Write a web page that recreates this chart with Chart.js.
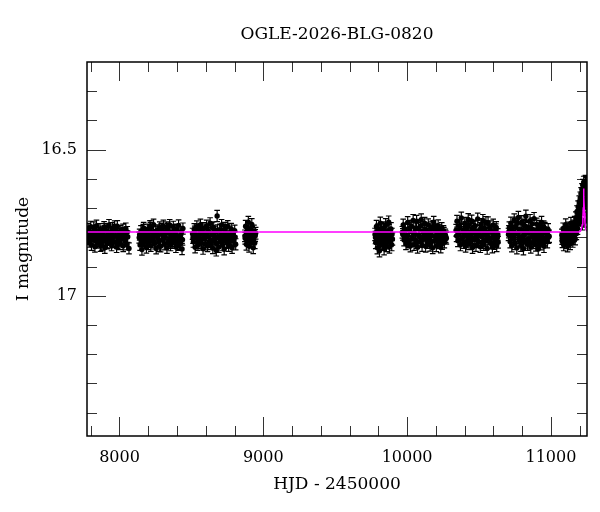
<!DOCTYPE html>
<html><head><meta charset="utf-8">
<script src="https://cdn.jsdelivr.net/npm/chart.js@4/dist/chart.umd.min.js"></script>
<style>html,body{margin:0;padding:0;background:#fff}#wrap{width:600px;height:512px}</style>
</head><body><div id="wrap"><canvas id="c" width="600" height="512"></canvas></div>
<script>
const titleText = 'OGLE-2026-BLG-0820';
const xAxisTitle = 'HJD - 2450000';
const yAxisTitle = 'I magnitude';
const xMajorTicks = [8000, 9000, 10000, 11000];
const xMinorTicks = [7800, 8200, 8400, 8600, 8800, 9200, 9400, 9600, 9800, 10200, 10400, 10600, 10800, 11200];
const yMajorTicks = [16.5, 17];
const yMinorTicks = [16.3, 16.4, 16.6, 16.7, 16.8, 16.9, 17.1, 17.2, 17.3, 17.4];

const s1Hjd = [7777,7782,7788,7794,7800,7805,7811,7817,7823,7829,
 7835,7840,7846,7852,7858,7864,7869,7875,7881,7887,
 7893,7898,7904,7910,7916,7922,7927,7933,7939,7945,
 7951,7956,7962,7968,7974,7980,7985,7991,7997,8003,
 8009,8014,8020,8026,8032,8038,8044,8050,8057,8066,
 7779,7792,7808,7821,7838,7850,7866,7878,7895,7908,
 7924,7937,7953,7966,7982,7995,8011,8024,8040,8054];
const s1Mag = [16.792,16.771,16.815,16.803,16.764,16.826,16.788,16.809,16.778,16.832,
 16.797,16.760,16.818,16.785,16.806,16.772,16.829,16.794,16.781,16.812,
 16.765,16.836,16.799,16.777,16.821,16.790,16.758,16.808,16.784,16.827,
 16.769,16.801,16.816,16.775,16.795,16.833,16.762,16.810,16.787,16.823,
 16.779,16.804,16.791,16.830,16.786,16.812,16.770,16.824,16.798,16.838,
 16.806,16.781,16.797,16.766,16.813,16.791,16.803,16.825,16.772,16.809,
 16.785,16.817,16.794,16.763,16.820,16.789,16.800,16.774,16.811,16.782];

const s2Hjd = [8137,8143,8149,8156,8162,8168,8174,8181,8187,8193,
 8199,8205,8212,8218,8224,8230,8237,8243,8249,8255,
 8262,8268,8274,8280,8286,8293,8299,8305,8311,8318,
 8324,8330,8336,8342,8349,8355,8361,8367,8374,8380,
 8386,8392,8398,8405,8411,8417,8423,8429,8435,8441,
 8140,8153,8165,8178,8190,8202,8215,8227,8240,8252,
 8265,8277,8290,8302,8315,8327,8339,8352,8364,8377,
 8389,8402,8414,8426,8438];
const s2Mag = [16.801,16.826,16.779,16.842,16.808,16.768,16.817,16.790,16.835,16.774,
 16.812,16.796,16.762,16.829,16.783,16.806,16.757,16.821,16.793,16.838,
 16.776,16.803,16.815,16.766,16.831,16.789,16.809,16.760,16.824,16.797,
 16.780,16.836,16.771,16.811,16.758,16.827,16.795,16.819,16.764,16.805,
 16.786,16.833,16.774,16.816,16.759,16.822,16.798,16.783,16.840,16.770,
 16.791,16.812,16.775,16.804,16.786,16.823,16.768,16.800,16.815,16.781,
 16.794,16.830,16.772,16.808,16.788,16.766,16.819,16.784,16.803,16.777,
 16.812,16.795,16.826,16.790,16.808];

const s3Hjd = [8508,8514,8520,8526,8532,8538,8545,8551,8557,8563,
 8569,8575,8581,8587,8594,8600,8606,8612,8618,8624,
 8630,8636,8643,8649,8655,8661,8667,8673,8679,8685,
 8691,8698,8704,8710,8716,8722,8728,8734,8740,8747,
 8753,8759,8765,8771,8777,8783,8789,8795,8801,8808,
 8511,8523,8535,8548,8560,8572,8584,8597,8609,8621,
 8633,8646,8658,8670,8682,8694,8707,8719,8731,8743,
 8756,8768,8780,8792,8804];
const s3Mag = [16.788,16.815,16.772,16.834,16.801,16.763,16.826,16.793,16.811,16.757,
 16.820,16.784,16.839,16.769,16.806,16.797,16.760,16.830,16.779,16.816,
 16.752,16.823,16.790,16.837,16.766,16.808,16.781,16.845,16.727,16.799,
 16.833,16.774,16.812,16.758,16.827,16.795,16.841,16.768,16.804,16.819,
 16.762,16.829,16.787,16.810,16.771,16.836,16.796,16.813,16.777,16.824,
 16.802,16.781,16.795,16.818,16.773,16.806,16.790,16.824,16.785,16.799,
 16.812,16.767,16.794,16.820,16.776,16.803,16.789,16.811,16.775,16.798,
 16.816,16.784,16.807,16.792,16.800];

const s4Hjd = [8872,8877,8882,8886,8891,8896,8901,8906,8911,8916,8920,8925,8930,8935,8941,8947,
 8874,8884,8893,8903,8913,8923,8933,8944];
const s4Mag = [16.795,16.762,16.824,16.781,16.809,16.748,16.831,16.790,16.772,16.815,16.756,16.803,16.836,16.778,16.819,16.786,
 16.803,16.789,16.770,16.812,16.797,16.783,16.806,16.794];

const s5Hjd = [9777,9782,9787,9793,9798,9803,9808,9814,9819,9824,9830,9835,9840,9845,9851,9856,9861,9867,9872,9877,9883,9888,9893,9898,
 9780,9790,9800,9811,9821,9832,9843,9853,9864,9875,9885,9895];
const s5Mag = [16.790,16.818,16.763,16.836,16.775,16.804,16.846,16.752,16.822,16.787,16.811,16.768,16.839,16.796,16.757,16.828,16.781,16.814,16.748,16.833,16.799,16.771,16.825,16.806,
 16.801,16.782,16.815,16.793,16.770,16.808,16.786,16.819,16.797,16.777,16.811,16.790];

const s6Hjd = [9967,9973,9979,9986,9992,9998,10004,10010,10017,10023,
 10029,10035,10042,10048,10054,10060,10066,10073,10079,10085,
 10091,10098,10104,10110,10116,10122,10129,10135,10141,10147,
 10154,10160,10166,10172,10178,10185,10191,10197,10203,10210,
 10216,10222,10228,10234,10241,10247,10253,10259,10266,10273,
 9970,9982,9995,10007,10020,10032,10045,10057,10070,10082,
 10095,10107,10119,10132,10144,10157,10169,10182,10194,10207,
 10219,10231,10244,10256,10269];
const s6Mag = [16.783,16.758,16.809,16.771,16.822,16.795,16.749,16.816,16.777,16.830,
 16.762,16.801,16.742,16.825,16.788,16.811,16.745,16.834,16.769,16.797,
 16.814,16.740,16.828,16.779,16.806,16.752,16.831,16.790,16.818,16.757,
 16.803,16.827,16.765,16.794,16.836,16.748,16.812,16.774,16.829,16.786,
 16.760,16.819,16.797,16.833,16.770,16.805,16.780,16.816,16.792,16.803,
 16.790,16.775,16.798,16.812,16.767,16.804,16.785,16.771,16.818,16.793,
 16.760,16.808,16.786,16.774,16.800,16.782,16.815,16.763,16.797,16.808,
 16.777,16.790,16.821,16.786,16.798];

const s7Hjd = [10341,10347,10353,10359,10365,10371,10377,10383,10389,10395,
 10401,10407,10413,10419,10425,10431,10437,10443,10449,10455,
 10461,10467,10473,10479,10485,10491,10497,10503,10509,10515,
 10521,10527,10533,10539,10545,10551,10557,10563,10569,10575,
 10581,10587,10593,10599,10605,10611,10617,10623,10628,10633,
 10344,10356,10368,10380,10392,10404,10416,10428,10440,10452,
 10464,10476,10488,10500,10512,10524,10536,10548,10560,10572,
 10584,10596,10608,10620,10631];
const s7Mag = [16.776,16.745,16.812,16.790,16.760,16.826,16.734,16.801,16.783,16.818,
 16.752,16.831,16.768,16.797,16.739,16.822,16.786,16.809,16.744,16.835,
 16.773,16.804,16.761,16.828,16.791,16.737,16.815,16.780,16.832,16.756,
 16.799,16.742,16.825,16.770,16.811,16.787,16.838,16.750,16.806,16.764,
 16.820,16.781,16.833,16.758,16.796,16.812,16.774,16.829,16.801,16.817,
 16.795,16.783,16.767,16.805,16.776,16.792,16.814,16.757,16.788,16.801,
 16.765,16.781,16.810,16.794,16.770,16.818,16.786,16.749,16.797,16.779,
 16.803,16.788,16.821,16.766,16.790];

const s8Hjd = [10705,10711,10717,10722,10728,10734,10740,10745,10751,10757,
 10763,10768,10774,10780,10786,10791,10797,10803,10809,10814,
 10820,10826,10832,10837,10843,10849,10855,10860,10866,10872,
 10878,10883,10889,10895,10901,10906,10912,10918,10924,10929,
 10935,10941,10947,10952,10958,10964,10970,10975,10981,10988,
 10708,10720,10731,10743,10754,10766,10777,10789,10800,10812,
 10823,10835,10846,10858,10869,10881,10892,10904,10915,10927,
 10938,10950,10961,10973,10984];
const s8Mag = [16.790,16.768,16.815,16.752,16.829,16.779,16.803,16.741,16.821,16.764,
 16.836,16.787,16.732,16.810,16.775,16.827,16.747,16.798,16.839,16.759,
 16.816,16.728,16.783,16.824,16.766,16.806,16.743,16.833,16.771,16.797,
 16.818,16.736,16.789,16.826,16.755,16.809,16.840,16.763,16.794,16.822,
 16.749,16.812,16.780,16.831,16.770,16.801,16.786,16.815,16.774,16.796,
 16.781,16.796,16.770,16.806,16.788,16.752,16.800,16.815,16.778,16.793,
 16.762,16.808,16.785,16.819,16.754,16.791,16.803,16.776,16.812,16.783,
 16.797,16.765,16.808,16.787,16.800];

const s9Hjd = [11076,11080,11085,11089,11094,11098,11103,11107,11112,11116,
 11121,11125,11130,11134,11139,11143,11148,11152,11157,11161,
 11165,11169,11173,11177,11181,11185,11189,11193,11197,11201,
 11204,11207,11210,11213,11216,11219,11222,11225,11228,11231,
 11234,11237,11240,11243,11246,11248,11250,11251,
 11078,11087,11096,11105,11114,11123,11132,11141,11150,11159,
 11167,11175,11183,11191,11199,11206,11212,11218,11224,11230,
 11236,11241,11245,11249,11250];
const s9Mag = [16.792,16.815,16.771,16.826,16.783,16.804,16.757,16.819,16.796,16.830,
 16.768,16.809,16.786,16.822,16.752,16.801,16.778,16.814,16.761,16.795,
 16.748,16.806,16.733,16.788,16.712,16.770,16.695,16.752,16.678,16.735,
 16.665,16.742,16.650,16.718,16.636,16.755,16.622,16.700,16.611,16.684,
 16.630,16.745,16.608,16.668,16.625,16.720,16.615,16.690,
 16.804,16.786,16.812,16.777,16.798,16.809,16.768,16.793,16.805,16.781,
 16.772,16.760,16.740,16.725,16.705,16.690,16.672,16.655,16.640,16.648,
 16.660,16.635,16.655,16.640,16.610];

const seasonErr = [0.019, 0.019, 0.019, 0.020, 0.021, 0.020, 0.020, 0.021, 0.020];

const modelHjd = [7774, 11195, 11205, 11212, 11218, 11222, 11225, 11227, 11228, 11230, 11233, 11237, 11242, 11251];
const modelMag = [16.782, 16.782, 16.779, 16.772, 16.757, 16.735, 16.700, 16.662, 16.633, 16.660, 16.715, 16.752, 16.772, 16.780];

const seasons = [[s1Hjd,s1Mag],[s2Hjd,s2Mag],[s3Hjd,s3Mag],[s4Hjd,s4Mag],[s5Hjd,s5Mag],[s6Hjd,s6Mag],[s7Hjd,s7Mag],[s8Hjd,s8Mag],[s9Hjd,s9Mag]];
const obs = [];
seasons.forEach(([h, m], i) => h.forEach((t, j) => obs.push({x: t, y: m[j], e: seasonErr[i]})));
const model = modelHjd.map((t, i) => ({x: t, y: modelMag[i]}));

const FONT = 'DejaVu Serif';

const framePlugin = {
  id: 'frame',
  beforeDatasetsDraw(chart) {
    const {ctx, chartArea: a, scales: {x, y}} = chart;
    ctx.save();
    ctx.strokeStyle = '#333';
    ctx.lineWidth = 1;
    ctx.beginPath();
    const tickX = (v, len) => {
      const p = Math.round(x.getPixelForValue(v)) + 0.5;
      ctx.moveTo(p, a.bottom); ctx.lineTo(p, a.bottom - len);
      ctx.moveTo(p, a.top); ctx.lineTo(p, a.top + len);
    };
    const tickY = (v, len) => {
      const p = Math.round(y.getPixelForValue(v)) + 0.5;
      ctx.moveTo(a.left, p); ctx.lineTo(a.left + len, p);
      ctx.moveTo(a.right, p); ctx.lineTo(a.right - len, p);
    };
    xMajorTicks.forEach(v => tickX(v, 19));
    xMinorTicks.forEach(v => tickX(v, 10));
    yMajorTicks.forEach(v => tickY(v, 19));
    yMinorTicks.forEach(v => tickY(v, 10));
    ctx.stroke();
    ctx.save();
    ctx.beginPath();
    ctx.rect(a.left, a.top, a.right - a.left, a.bottom - a.top);
    ctx.clip();
    ctx.strokeStyle = '#000';
    ctx.lineWidth = 1.2;
    ctx.beginPath();
    obs.forEach(o => {
      const px = x.getPixelForValue(o.x);
      const y1 = y.getPixelForValue(o.y - o.e);
      const y2 = y.getPixelForValue(o.y + o.e);
      ctx.moveTo(px, y1); ctx.lineTo(px, y2);
      ctx.moveTo(px - 2.8, y1); ctx.lineTo(px + 2.8, y1);
      ctx.moveTo(px - 2.8, y2); ctx.lineTo(px + 2.8, y2);
    });
    ctx.stroke();
    ctx.restore();
    ctx.restore();
  },
  afterDraw(chart) {
    const {ctx, chartArea: a} = chart;
    ctx.save();
    ctx.strokeStyle = '#000';
    ctx.lineWidth = 1.5;
    ctx.strokeRect(a.left, a.top, a.right - a.left, a.bottom - a.top);
    ctx.fillStyle = '#000';
    ctx.font = '17px "' + FONT + '"';
    ctx.textAlign = 'center';
    ctx.textBaseline = 'middle';
    ctx.fillText(titleText, (a.left + a.right) / 2, 35);
    ctx.restore();
  }
};

new Chart(document.getElementById('c'), {
  type: 'scatter',
  data: {
    datasets: [
      {
        type: 'line',
        data: model,
        borderColor: '#ff00ff',
        borderWidth: 1.5,
        pointRadius: 0,
        tension: 0,
        fill: false
      },
      {
        data: obs,
        backgroundColor: '#000',
        borderColor: '#000',
        borderWidth: 0,
        pointRadius: 2.7,
        showLine: false
      }
    ]
  },
  options: {
    responsive: false,
    animation: false,
    events: [],
    layout: {padding: {left: 0, right: 13, top: 62, bottom: 0}},
    plugins: {legend: {display: false}, tooltip: {enabled: false}, title: {display: false}},
    scales: {
      x: {
        type: 'linear',
        min: 7774,
        max: 11251,
        grid: {display: false, drawTicks: false},
        border: {display: false},
        afterBuildTicks: s => { s.ticks = xMajorTicks.map(v => ({value: v})); },
        afterFit: s => { s.height = 76; },
        ticks: {
          color: '#000', padding: 12, maxRotation: 0, autoSkip: false,
          font: {family: FONT, size: 16},
          callback: v => String(v)
        },
        title: {display: true, text: xAxisTitle, color: '#000', font: {family: FONT, size: 17}, padding: {top: 0, bottom: 17}}
      },
      y: {
        type: 'linear',
        reverse: true,
        min: 16.2,
        max: 17.48,
        grid: {display: false, drawTicks: false},
        border: {display: false},
        afterBuildTicks: s => { s.ticks = yMajorTicks.map(v => ({value: v})); },
        afterFit: s => { s.width = 87; },
        ticks: {
          color: '#000', padding: 10, autoSkip: false,
          font: {family: FONT, size: 16},
          callback: v => String(v)
        },
        title: {display: true, text: yAxisTitle, color: '#000', font: {family: FONT, size: 17}, padding: {top: 13, bottom: 0}}
      }
    }
  },
  plugins: [framePlugin]
});
</script>
</body></html>
